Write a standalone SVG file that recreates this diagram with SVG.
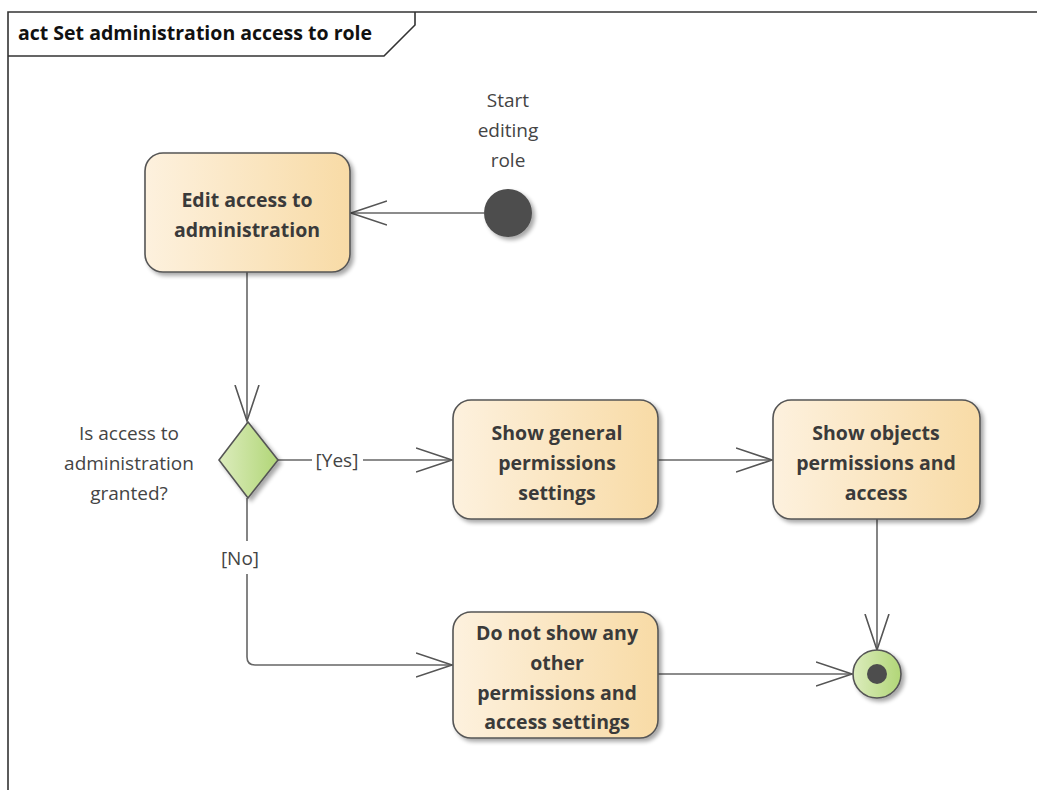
<svg xmlns="http://www.w3.org/2000/svg" width="1037" height="790" viewBox="0 0 1037 790">
<defs>
<linearGradient id="gAct" x1="0" y1="0" x2="1" y2="0">
<stop offset="0" stop-color="#fdf1de"/>
<stop offset="1" stop-color="#f8dba6"/>
</linearGradient>
<linearGradient id="gDec" x1="0" y1="0" x2="1" y2="0">
<stop offset="0" stop-color="#dcecbd"/>
<stop offset="1" stop-color="#b1d677"/>
</linearGradient>
<filter id="sh" x="-10%" y="-10%" width="130%" height="130%">
<feGaussianBlur in="SourceAlpha" stdDeviation="2"/>
<feOffset dx="3" dy="3" result="b"/>
<feComponentTransfer><feFuncA type="linear" slope="0.35"/></feComponentTransfer>
<feMerge><feMergeNode/><feMergeNode in="SourceGraphic"/></feMerge>
</filter>
<marker id="arr" markerWidth="40" markerHeight="30" refX="36" refY="13" orient="auto" markerUnits="userSpaceOnUse">
<path d="M0,1 L36,13 L0,25" fill="none" stroke="#555" stroke-width="1.6"/>
</marker>
</defs>
<style>
.act{fill:url(#gAct);stroke:#555;stroke-width:1.6;filter:url(#sh)}
.dec{fill:url(#gDec);stroke:#555;stroke-width:1.6;filter:url(#sh)}
.t{font-family:"Open Sans","Noto Sans",sans-serif;font-weight:bold;font-size:19.5px;fill:#3a3a3a;text-anchor:middle}
.l{font-family:"Open Sans","Noto Sans",sans-serif;font-size:19px;fill:#444;text-anchor:middle}
.c{fill:none;stroke:#666;stroke-width:1.6}
</style>
<rect width="1037" height="790" fill="#fff"/>
<g id="frame">
<path d="M8,790 L8,12 L1037,12" fill="none" stroke="#333" stroke-width="1.6"/>
<path d="M8,56 L384,56 L415,25 L415,12" fill="none" stroke="#333" stroke-width="1.6"/>
<text x="18" y="40" font-family="'Open Sans','Noto Sans',sans-serif" font-weight="bold" font-size="19.5" fill="#111">act Set administration access to role</text>
</g>
<g id="connectors">
<line class="c" x1="484" y1="213" x2="351" y2="213" marker-end="url(#arr)"/>
<line class="c" x1="247" y1="272" x2="247" y2="421" marker-end="url(#arr)"/>
<path class="c" d="M278,460 L312,460"/>
<path class="c" d="M363,460 L452,460" marker-end="url(#arr)"/>
<line class="c" x1="658" y1="460" x2="772" y2="460" marker-end="url(#arr)"/>
<line class="c" x1="877" y1="519" x2="877" y2="650" marker-end="url(#arr)"/>
<path class="c" d="M247,498 L247,541"/>
<path class="c" d="M247,574 L247,657 Q247,665 255,665 L452,665" marker-end="url(#arr)"/>
<line class="c" x1="658" y1="674" x2="852" y2="674" marker-end="url(#arr)"/>
<text class="l" x="337" y="467">[Yes]</text>
<text class="l" x="240" y="565">[No]</text>
</g>
<g id="start">
<circle cx="508" cy="213" r="24" fill="#4d4d4d" filter="url(#sh)"/>
<text class="l" x="508" y="107">Start</text>
<text class="l" x="508" y="137">editing</text>
<text class="l" x="508" y="167">role</text>
</g>
<g id="edit">
<rect class="act" x="145" y="153" width="205" height="119" rx="18"/>
<text class="t" x="247" y="207">Edit access to</text>
<text class="t" x="247" y="237">administration</text>
</g>
<g id="decision">
<path class="dec" d="M248,422 L278,460 L248,498 L219,460 Z"/>
<text class="l" x="129" y="440">Is access to</text>
<text class="l" x="129" y="470">administration</text>
<text class="l" x="129" y="500">granted?</text>
</g>
<g id="general">
<rect class="act" x="453" y="400" width="205" height="119" rx="18"/>
<text class="t" x="557" y="440">Show general</text>
<text class="t" x="557" y="470">permissions</text>
<text class="t" x="557" y="500">settings</text>
</g>
<g id="objects">
<rect class="act" x="773" y="400" width="207" height="119" rx="18"/>
<text class="t" x="876" y="440">Show objects</text>
<text class="t" x="876" y="470">permissions and</text>
<text class="t" x="876" y="500">access</text>
</g>
<g id="noshow">
<rect class="act" x="453" y="612" width="205" height="126" rx="18"/>
<text class="t" x="557" y="640">Do not show any</text>
<text class="t" x="557" y="670">other</text>
<text class="t" x="557" y="700">permissions and</text>
<text class="t" x="557" y="729">access settings</text>
</g>
<g id="final">
<circle cx="877" cy="674" r="24" fill="url(#gDec)" stroke="#555" stroke-width="1.6" filter="url(#sh)"/>
<circle cx="877" cy="674" r="10" fill="#4d4d4d"/>
</g>
</svg>
